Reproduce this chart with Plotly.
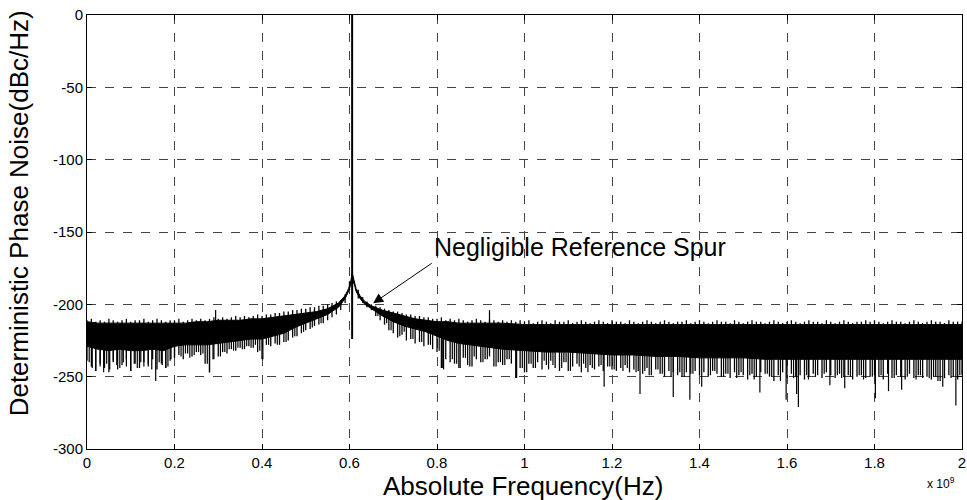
import numpy as np
import plotly.graph_objects as go

# ---------------- data (frequency in units of 1e9 Hz, level in dBc/Hz) ----------------
# dense core of the noise floor
env_x = [0.000, 0.025, 0.050, 0.075, 0.100, 0.125, 0.150, 0.175, 0.200, 0.225,
         0.250, 0.275, 0.300, 0.325, 0.350, 0.375, 0.400, 0.425, 0.450, 0.475,
         0.500, 0.525, 0.550, 0.575, 0.590, 0.598, 0.603, 0.606, 0.610, 0.615,
         0.624, 0.635, 0.650, 0.675, 0.700, 0.725, 0.750, 0.775, 0.800, 0.825,
         0.850, 0.875, 0.900, 0.950, 1.000, 1.050, 1.100, 1.150, 1.200, 1.250,
         1.300, 1.350, 1.400, 1.450, 1.500, 1.550, 1.600, 1.650, 1.700, 1.750,
         1.800, 1.850, 1.900, 1.950, 2.000]
env_top = [-212, -213, -213, -213, -213, -213, -213, -213, -213, -213,
           -212, -212, -211, -211, -211, -210, -210, -209, -208, -207,
           -206, -205, -203, -199, -194, -189, -184, -178, -183, -189,
           -194, -198, -201, -204, -206, -208, -210, -211, -212, -212,
           -213, -213, -213, -213, -214, -214, -214, -214, -214, -214,
           -214, -214, -214, -214, -214, -214, -214, -214, -214, -214,
           -214, -214, -214, -214, -214]
env_bot = [-229, -231, -232, -231, -232, -232, -231, -232, -229, -228,
           -228, -228, -227, -226, -225, -224, -224, -222, -220, -216,
           -213, -210, -207, -202, -196, -191, -186, -180, -185, -191,
           -196, -200, -203, -208, -212, -215, -217, -219, -222, -225,
           -227, -228, -229, -231, -232, -233, -233, -234, -235, -235,
           -236, -236, -237, -237, -237, -238, -238, -238, -238, -238,
           -238, -238, -238, -238, -238]

# per-0.01 GHz bin extremes of the noise trace
bin_x = [round(0.01 * i, 2) for i in range(201)]
bin_high = [-211, -210, -212, -211, -212, -210, -211, -212, -211, -210,
            -212, -211, -211, -210, -212, -211, -210, -211, -212, -211,
            -211, -210, -212, -211, -210, -211, -210, -211, -210, -209,
            -210, -209, -210, -209, -208, -209, -208, -209, -208, -207,
            -208, -207, -207, -206, -206, -205, -205, -204, -204, -203,
            -203, -202, -202, -201, -201, -200, -199, -198, -197, -193,
            -184, -184, -190, -195, -198, -200, -201, -202, -203, -204,
            -205, -205, -206, -207, -207, -208, -208, -209, -209, -210,
            -210, -209, -211, -210, -211, -210, -211, -212, -211, -210,
            -211, -212, -210, -211, -212, -211, -212, -211, -212, -211,
            -212, -211, -213, -212, -211, -212, -213, -211, -212, -212,
            -211, -213, -212, -211, -212, -213, -212, -211, -212, -213,
            -211, -212, -212, -213, -211, -212, -213, -212, -211, -212,
            -213, -212, -211, -212, -213, -212, -212, -211, -213, -212,
            -211, -212, -213, -212, -211, -212, -212, -213, -211, -212,
            -213, -212, -211, -212, -212, -213, -212, -211, -212, -213,
            -212, -211, -212, -213, -212, -211, -212, -212, -213, -211,
            -212, -213, -212, -211, -212, -213, -212, -212, -211, -212,
            -211, -212, -213, -212, -211, -212, -212, -213, -212, -211,
            -212, -213, -212, -211, -212, -212, -213, -211, -212, -212,
            -212]
bin_low = [-239, -243, -246, -241, -244, -247, -240, -245, -242, -238,
           -246, -241, -244, -240, -243, -238, -245, -241, -244, -239,
           -237, -235, -238, -234, -236, -233, -235, -241, -247, -238,
           -236, -233, -234, -231, -232, -230, -231, -229, -230, -233,
           -238, -228, -229, -227, -228, -226, -225, -223, -222, -220,
           -218, -217, -215, -214, -213, -211, -209, -207, -204, -199,
           -190, -186, -196, -199, -202, -204, -208, -211, -214, -218,
           -220, -223, -221, -225, -224, -227, -226, -229, -228, -231,
           -233, -244, -238, -240, -241, -244, -237, -242, -243, -238,
           -240, -238, -236, -243, -240, -242, -238, -241, -251, -244,
           -247, -241, -244, -240, -245, -242, -239, -244, -246, -240,
           -246, -243, -241, -247, -244, -242, -245, -243, -246, -243,
           -245, -246, -244, -242, -247, -245, -246, -248, -244, -249,
           -245, -248, -250, -246, -247, -249, -250, -247, -248, -246,
           -249, -247, -250, -246, -248, -250, -248, -251, -247, -249,
           -249, -252, -248, -250, -247, -248, -250, -253, -249, -247,
           -251, -248, -250, -249, -252, -250, -248, -249, -251, -247,
           -249, -251, -248, -250, -249, -252, -250, -249, -251, -250,
           -249, -250, -252, -248, -251, -249, -250, -252, -248, -251,
           -249, -251, -250, -252, -250, -253, -251, -249, -250, -252,
           -249]

# isolated spikes of the trace
spike_x = [0.005, 0.012, 0.020, 0.030, 0.038, 0.045, 0.052, 0.060, 0.068, 0.075,
           0.083, 0.090, 0.100, 0.108, 0.115, 0.123, 0.130, 0.140, 0.148, 0.157,
           0.165, 0.172, 0.180, 0.185, 0.192, 0.200, 0.215, 0.225, 0.235, 0.245,
           0.255, 0.265, 0.275, 0.280, 0.288, 0.294, 0.305, 0.315, 0.325, 0.335,
           0.345, 0.355, 0.365, 0.375, 0.385, 0.395, 0.402, 0.415, 0.435, 0.455,
           0.475, 0.495, 0.515, 0.535, 0.665, 0.685, 0.695, 0.715, 0.725, 0.745,
           0.765, 0.785, 0.805, 0.812, 0.815, 0.835, 0.845, 0.853, 0.865, 0.875,
           0.885, 0.905, 0.915, 0.920, 0.935, 0.945, 0.955, 0.965, 0.982, 0.995,
           1.005, 1.015, 1.025, 1.045, 1.055, 1.065, 1.085, 1.095, 1.105, 1.125,
           1.135, 1.145, 1.155, 1.175, 1.182, 1.195, 1.205, 1.225, 1.235, 1.255,
           1.264, 1.275, 1.285, 1.305, 1.315, 1.335, 1.340, 1.355, 1.365, 1.378,
           1.385, 1.405, 1.425, 1.435, 1.455, 1.465, 1.485, 1.495, 1.515, 1.525,
           1.538, 1.555, 1.565, 1.585, 1.598, 1.615, 1.622, 1.626, 1.645, 1.649,
           1.665, 1.685, 1.698, 1.715, 1.725, 1.732, 1.745, 1.765, 1.775, 1.795,
           1.802, 1.815, 1.832, 1.845, 1.862, 1.875, 1.895, 1.905, 1.925, 1.935,
           1.945, 1.956, 1.975, 1.986, 1.995]
spike_y = [-240, -244, -246, -243, -247, -241, -245, -239, -242, -244,
           -240, -243, -246, -241, -244, -240, -243, -241, -245, -253,
           -240, -242, -244, -243, -238, -236, -236, -234, -237, -235,
           -233, -234, -241, -247, -238, -204, -236, -233, -231, -232,
           -230, -231, -229, -230, -228, -232, -238, -228, -228, -226,
           -222, -219, -216, -213, -208, -213, -218, -222, -219, -224,
           -226, -228, -232, -244, -245, -238, -241, -244, -237, -243,
           -236, -240, -238, -204, -243, -240, -242, -238, -251, -244,
           -247, -241, -244, -239, -245, -242, -244, -240, -246, -243,
           -241, -247, -244, -242, -257, -243, -245, -246, -244, -247,
           -262, -246, -249, -245, -248, -250, -264, -247, -250, -266,
           -248, -257, -249, -246, -250, -248, -251, -247, -249, -252,
           -261, -248, -250, -253, -266, -251, -262, -271, -249, -252,
           -250, -248, -256, -249, -251, -258, -250, -249, -252, -250,
           -265, -249, -260, -251, -259, -250, -252, -249, -251, -250,
           -253, -257, -251, -270, -249]

spur_x = [0.606, 0.606]
spur_y = [-224, 0]

x_ticks = [0, 0.2, 0.4, 0.6, 0.8, 1.0, 1.2, 1.4, 1.6, 1.8, 2.0]
x_tick_labels = ["0", "0.2", "0.4", "0.6", "0.8", "1", "1.2", "1.4", "1.6", "1.8", "2"]
y_ticks = [-300, -250, -200, -150, -100, -50, 0]
y_tick_labels = ["-300", "-250", "-200", "-150", "-100", "-50", "0"]

# ---------------- figure ----------------
FONT = "Liberation Sans, Arial, Helvetica, sans-serif"
fig = go.Figure()

# per-bin vertical extents of the trace
bx, by = [], []
for x, hi, lo in zip(bin_x, bin_high, bin_low):
    bx += [x, x, None]
    by += [hi, lo, None]
fig.add_trace(go.Scatter(x=bx, y=by, mode="lines", line=dict(color="black", width=1.3),
                         hoverinfo="skip", showlegend=False))

# isolated spikes: vertical segments from the core middle to the spike value
mid = (np.interp(spike_x, env_x, env_top) + np.interp(spike_x, env_x, env_bot)) / 2
sx, sy = [], []
for x, m, y in zip(spike_x, mid, spike_y):
    sx += [x, x, None]
    sy += [m, y, None]
fig.add_trace(go.Scatter(x=sx, y=sy, mode="lines", line=dict(color="black", width=1.2),
                         hoverinfo="skip", showlegend=False))

# dense core band
fig.add_trace(go.Scatter(x=env_x, y=env_bot, mode="lines", line=dict(color="black", width=1),
                         hoverinfo="skip", showlegend=False))
fig.add_trace(go.Scatter(x=env_x, y=env_top, mode="lines", line=dict(color="black", width=1),
                         fill="tonexty", fillcolor="black", hoverinfo="skip", showlegend=False))

# carrier spur
fig.add_trace(go.Scatter(x=spur_x, y=spur_y, mode="lines", line=dict(color="black", width=2),
                         showlegend=False))

axis_common = dict(showline=True, linecolor="black", linewidth=1, mirror="ticks",
                   ticks="inside", ticklen=5, tickcolor="black", automargin=False,
                   showgrid=True, gridcolor="#444444", gridwidth=1, griddash="dash",
                   zeroline=False, tickfont=dict(family=FONT, size=15, color="black"))

fig.update_xaxes(range=[0, 2], tickvals=x_ticks, ticktext=x_tick_labels, **axis_common)
fig.update_yaxes(range=[-300, 0], tickvals=y_ticks, ticktext=y_tick_labels, **axis_common)

fig.update_layout(
    width=967, height=500,
    margin=dict(l=87, r=5, t=15, b=51, autoexpand=False),
    paper_bgcolor="white", plot_bgcolor="white",
    font=dict(family=FONT, color="black"),
    annotations=[
        dict(text="Absolute Frequency(Hz)", xref="paper", yref="paper", x=0.498, y=-0.085,
             xanchor="center", yanchor="middle", showarrow=False,
             font=dict(family=FONT, size=26, color="black")),
        dict(text="Deterministic Phase Noise(dBc/Hz)", xref="paper", yref="paper",
             x=-0.0777, y=0.543, xanchor="center", yanchor="middle", textangle=-90,
             showarrow=False, font=dict(family=FONT, size=26, color="black")),
        dict(text="x 10<sup>9</sup>", xref="paper", yref="paper", x=0.994, y=-0.078,
             xanchor="right", yanchor="middle", showarrow=False,
             font=dict(family=FONT, size=12, color="black")),
        dict(text="Negligible Reference Spur", x=0.654, y=-199.3, xref="x", yref="y",
             ax=0.788, ay=-171.6, axref="x", ayref="y",
             xanchor="left", yanchor="bottom", showarrow=True,
             arrowhead=2, arrowsize=2, arrowwidth=1, arrowcolor="black",
             font=dict(family=FONT, size=25, color="black")),
    ],
)

fig.write_html("out.html", config={"displayModeBar": False},
               post_script="document.body.style.margin='0px';document.body.style.overflow='hidden';")
